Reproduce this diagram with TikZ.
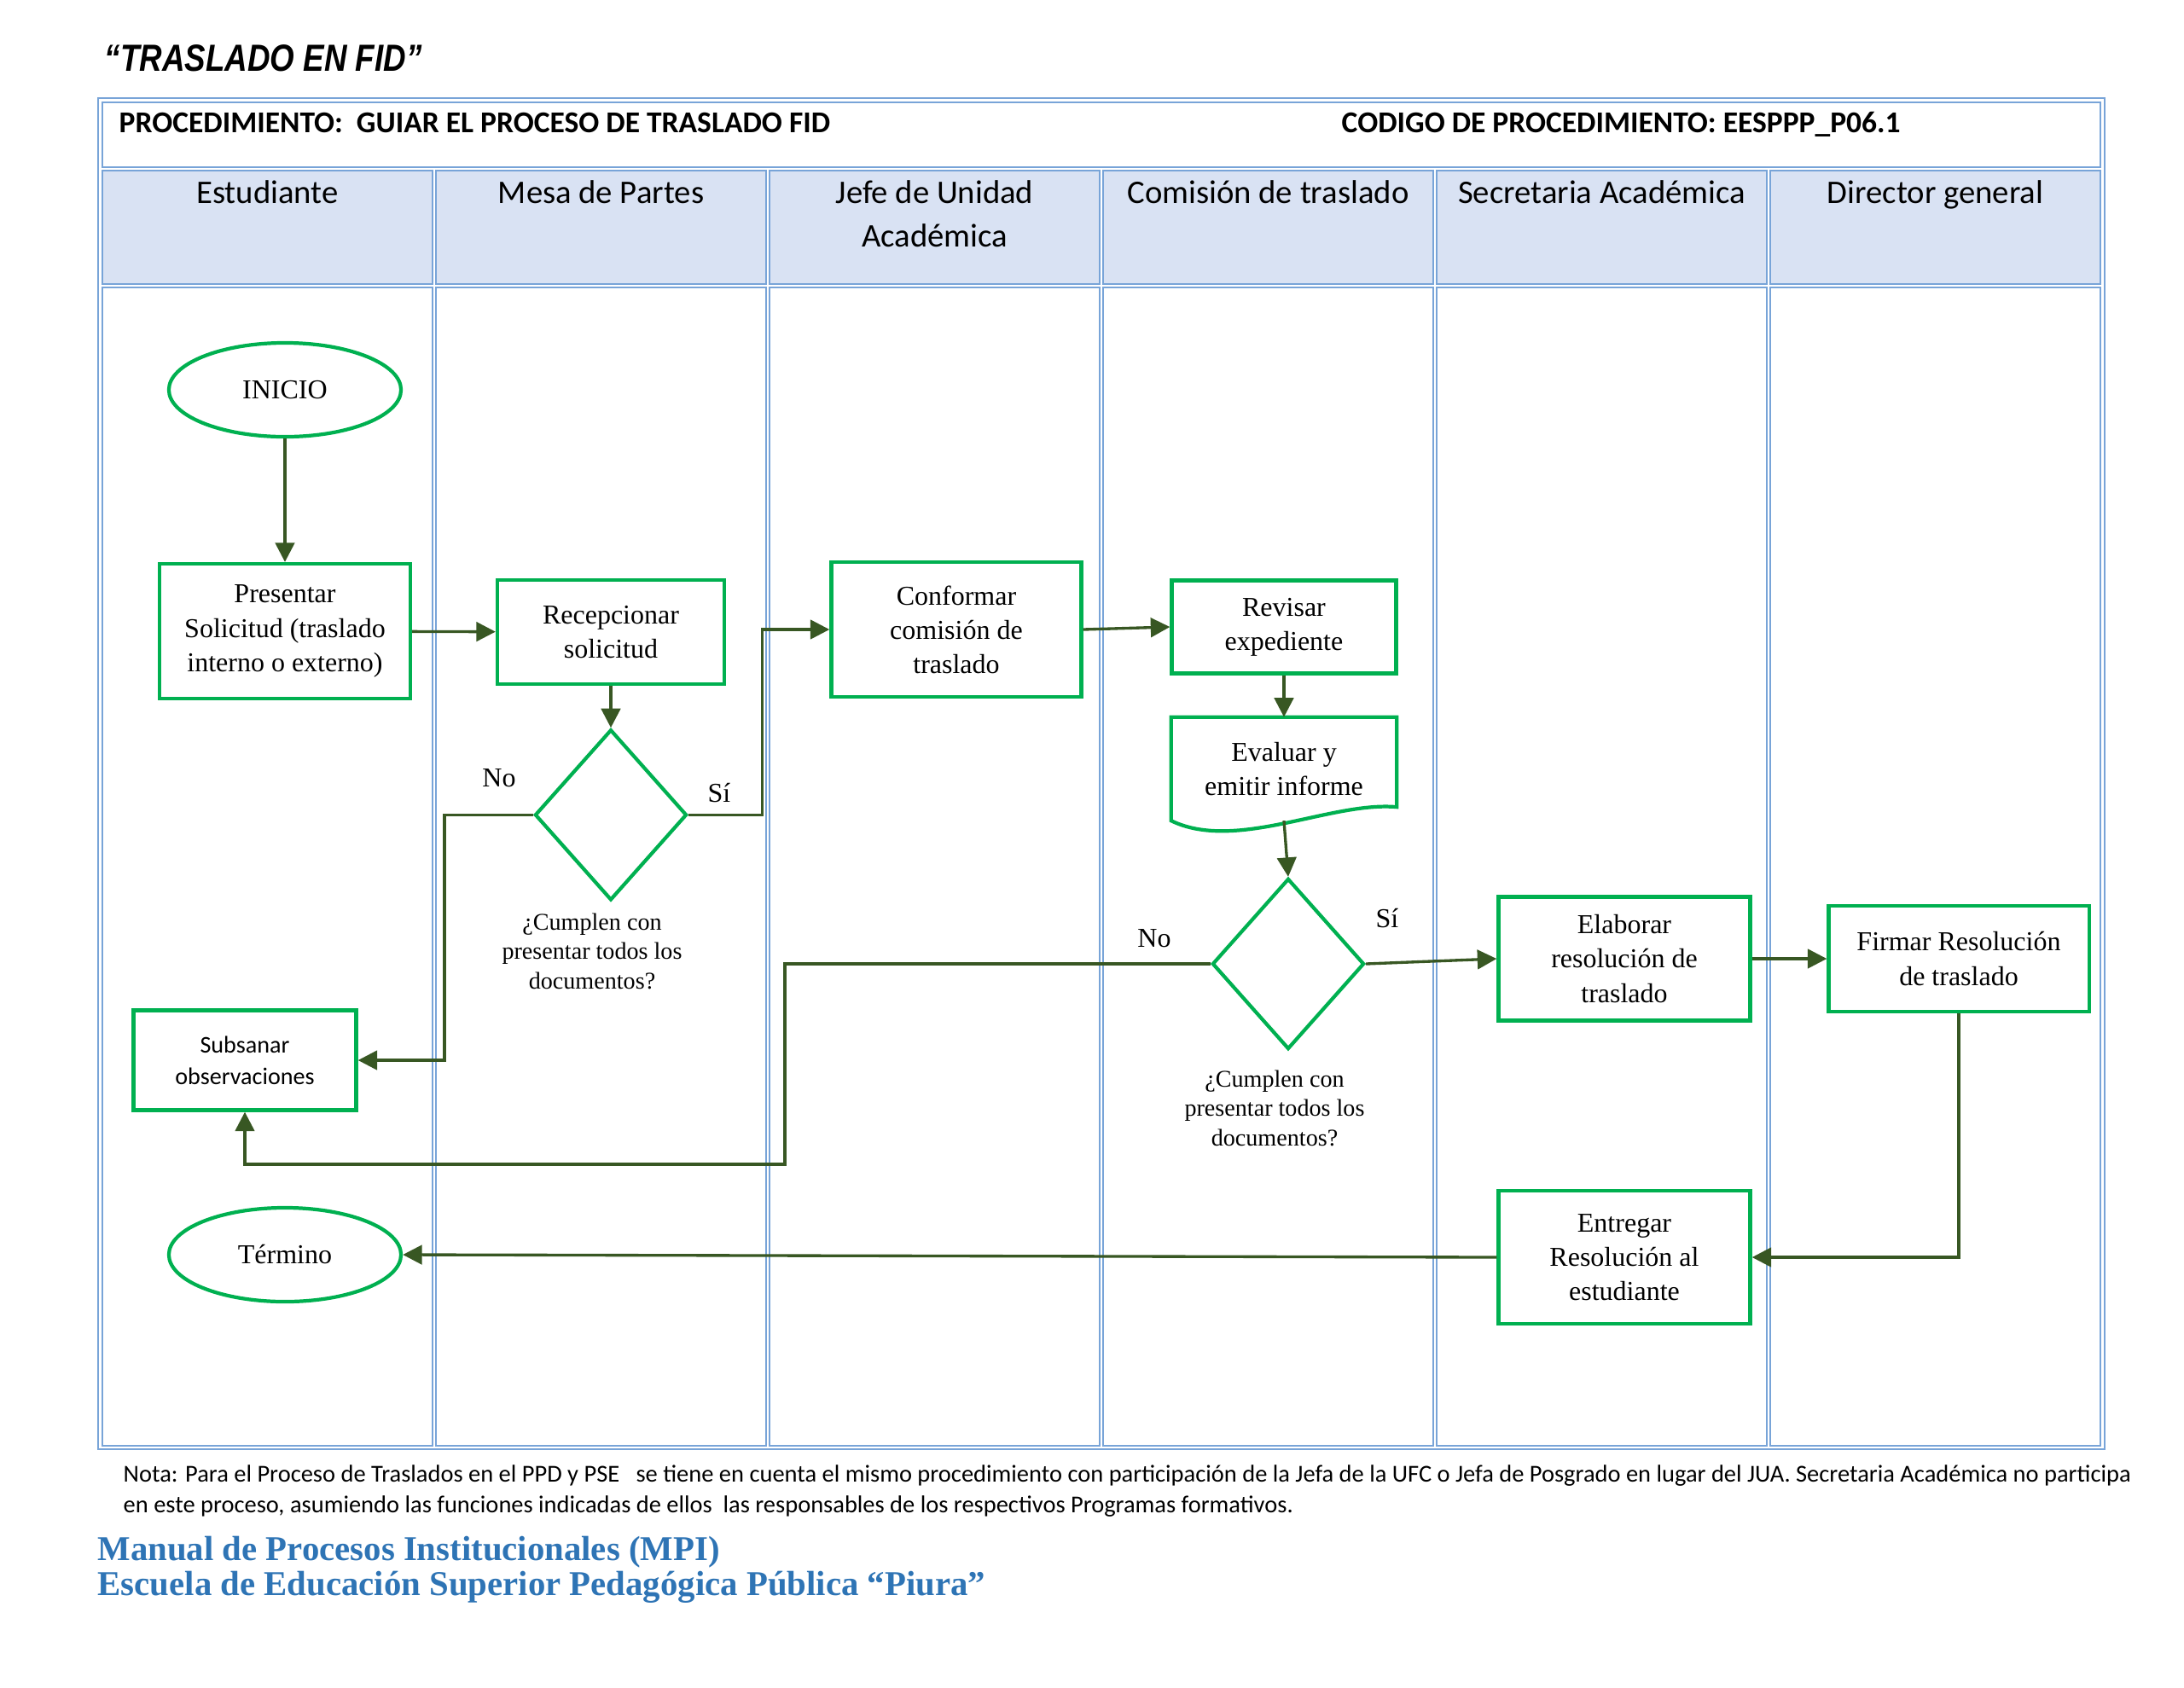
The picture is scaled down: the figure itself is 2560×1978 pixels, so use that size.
\documentclass[tikz,border=0pt]{standalone}
\usepackage{fontspec}
\setmainfont{Liberation Serif}
\newfontfamily\calibri{Carlito}
\newfontfamily\titlefont[FakeStretch=0.83]{Liberation Sans}
\usepackage{xcolor}
\usetikzlibrary{arrows.meta,shapes.geometric,positioning}

\definecolor{boxgreen}{RGB}{0,176,80}
\definecolor{arrowgreen}{RGB}{56,87,35}
\definecolor{laneblue}{RGB}{120,164,216}
\definecolor{headfill}{RGB}{217,226,243}
\definecolor{footblue}{RGB}{46,116,181}

\begin{document}
\begin{tikzpicture}[x=0.01cm, y=-0.01cm, >={Triangle[length=6.4pt,width=6.4pt]}]

	\useasboundingbox (0,0) rectangle (2560,1978);

	\tikzstyle{proc}=[rectangle, draw=boxgreen, line width=1.2pt, align=center, inner sep=1pt, font=\fontsize{9.1}{11.4}\selectfont]
	\tikzstyle{term}=[ellipse, draw=boxgreen, line width=1.2pt, minimum width=2.72cm, minimum height=1.10cm, font=\fontsize{9.1}{11.4}\selectfont]
	\tikzstyle{decision}=[diamond, draw=boxgreen, line width=1.2pt, minimum width=1.78cm, minimum height=2.00cm, inner sep=0pt]
	\tikzstyle{flow}=[->, draw=arrowgreen, line width=0.95pt]
	\tikzstyle{lane}=[draw=laneblue, line width=0.5pt]
	\tikzstyle{lanehead}=[anchor=north, inner sep=0pt, align=center, font=\calibri\fontsize{11}{14.5}\selectfont]
	\tikzstyle{answer}=[font=\fontsize{9.1}{11}\selectfont]
	\tikzstyle{question}=[align=center, font=\fontsize{8}{9.8}\selectfont]

	\node[anchor=base west, inner sep=0pt, font=\titlefont\bfseries\itshape\fontsize{12.6}{14}\selectfont] (titulo) at (122,83) {“TRASLADO EN FID”};

	% table with the lanes
	\draw[lane, line width=0.7pt] (115,115) rectangle (2467,1699);
	\draw[lane] (120,120) rectangle (2462,196);
	\node[anchor=base west, inner sep=0pt, font=\calibri\bfseries\fontsize{10.1}{12}\selectfont] (proced) at (139,155) {PROCEDIMIENTO:\ \ GUIAR EL PROCESO DE TRASLADO FID};
	\node[anchor=base west, inner sep=0pt, font=\calibri\bfseries\fontsize{10.1}{12}\selectfont] (codigo) at (1572,155) {CODIGO DE PROCEDIMIENTO: EESPPP\_P06.1};
	\foreach \name [count=\i from 0] in {Estudiante, Mesa de Partes, {Jefe de Unidad\\Académica}, Comisión de traslado, Secretaria Académica, Director general} {
		\draw[lane, fill=headfill] (120+391*\i,200) rectangle (116+391*\i+391,333);
		\draw[lane] (120+391*\i,337) rectangle (116+391*\i+391,1695);
		\node[lanehead] (lane\i) at (313.5+391*\i,202) {\strut\name};
	}

	% Estudiante and Mesa de Partes
	\node[term] (inicio) at (334,457) {INICIO};
	\node[proc, minimum width=2.94cm, minimum height=1.58cm] (presentar) at (334,740) {Presentar\\Solicitud (traslado\\interno o externo)};
	\node[proc, minimum width=2.66cm, minimum height=1.22cm] (recepcionar) at (716,741) {Recepcionar\\solicitud};
	\node[decision, below=0.49cm of recepcionar] (cumple1) {};
	\node[question] (preg1) at (694,1115) {¿Cumplen con\\presentar todos los\\documentos?};
	\node[answer] (no1) at (585,912) {No};
	\node[answer] (si1) at (843,930) {Sí};
	\node[proc, minimum width=2.61cm, minimum height=1.17cm, font=\calibri\fontsize{8}{10.5}\selectfont] (subsanar) at (287,1243) {Subsanar\\observaciones};
	\node[term] (termino) at (334,1471) {Término};

	% Jefe de Unidad and Comision
	\node[proc, minimum width=2.93cm, minimum height=1.58cm] (conformar) at (1121,738) {Conformar\\comisión de\\traslado};
	\node[proc, minimum width=2.63cm, minimum height=1.09cm] (revisar) at (1505,735) {Revisar\\expediente};
	\node[minimum width=2.63cm, minimum height=1.20cm, inner sep=1pt, align=center, font=\fontsize{9.1}{11.4}\selectfont, below=0.49cm of revisar] (evaluar) {Evaluar y\\emitir informe};
	\draw[draw=boxgreen, line width=1.2pt] (evaluar.south west) -- (evaluar.north west) -- (evaluar.north east) -- ([yshift=0.16cm]evaluar.south east) .. controls +(-77,-7) and +(76,37) .. (evaluar.south west) -- cycle;
	\node[decision] (cumple2) at (1510,1130) {};
	\node[question] (preg2) at (1494,1299) {¿Cumplen con\\presentar todos los\\documentos?};
	\node[answer] (no2) at (1353,1100) {No};
	\node[answer] (si2) at (1626,1077) {Sí};

	% Secretaria and Director
	\node[proc, minimum width=2.95cm, minimum height=1.45cm] (elaborar) at (1904,1124) {Elaborar\\resolución de\\traslado};
	\node[proc, minimum width=3.05cm, minimum height=1.24cm] (firmar) at (2296,1124) {Firmar Resolución\\de traslado};
	\node[proc, minimum width=2.95cm, minimum height=1.56cm] (entregar) at (1904,1474) {Entregar\\Resolución al\\estudiante};

	% connectors
	\draw[flow] (inicio) -- (presentar);
	\draw[flow] (presentar) -- (recepcionar);
	\draw[flow] (recepcionar) -- (cumple1);
	\draw[flow] (cumple1.west) -- ++(-104,0) |- (subsanar.east);
	\draw[flow] (cumple1.east) -- ++(86,0) |- (conformar.west);
	\draw[flow] (conformar.east) -- (revisar.west);
	\draw[flow] (revisar) -- (evaluar);
	\draw[flow] (evaluar.south) -- (cumple2.north);
	\draw[flow] (cumple2.east) -- (elaborar.west);
	\coordinate (retorno) at (920,1365);
	\draw[flow] (cumple2.west) -| (retorno) -| (subsanar.south);
	\draw[flow] (elaborar) -- (firmar);
	\draw[flow] (firmar.south) |- (entregar.east);
	\draw[flow] (entregar.west) -- (termino.east);

	% notes below the table
	\node[anchor=north west, inner sep=0pt, align=left, font=\calibri\fontsize{8.1}{10.2}\selectfont] (nota) at (144,1712) {\strut Nota: Para el Proceso de Traslados en el PPD y PSE \ \ se tiene en cuenta el mismo procedimiento con participación de la Jefa de la UFC o Jefa de Posgrado en lugar del JUA. Secretaria Académica no participa\\en este proceso, asumiendo las funciones indicadas de ellos \ las responsables de los respectivos Programas formativos.};
	\node[anchor=north west, inner sep=0pt, align=left, text=footblue, font=\bfseries\fontsize{11.6}{11.6}\selectfont] (manual) at (114,1800) {\strut Manual de Procesos Institucionales (MPI)\\Escuela de Educación Superior Pedagógica Pública “Piura”};

\end{tikzpicture}
\end{document}
